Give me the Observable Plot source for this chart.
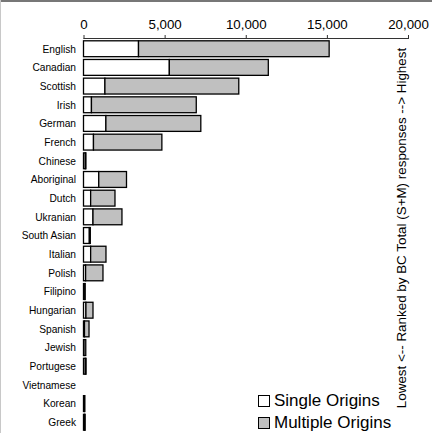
<!DOCTYPE html>
<html>
<head>
<meta charset="utf-8">
<script src="https://cdn.jsdelivr.net/npm/d3@7"></script>
<script src="https://cdn.jsdelivr.net/npm/@observablehq/plot@0.6"></script>
<style>
  html, body { margin: 0; padding: 0; background: #fff; overflow: hidden; }
  body { width: 432px; height: 433px; position: relative; font-family: Arial, "Liberation Sans", sans-serif; }
  #chart { position: absolute; left: 0; top: 0; }
  #legend { position: absolute; left: 258px; top: 390px; font-size: 17px; line-height: 22px; color: #000; }
  #legend .item { display: flex; align-items: center; white-space: nowrap; }
  #legend .sw { width: 10px; height: 10px; border: 1.3px solid #000; margin-right: 4px; }
  #edgeTop { position: absolute; left: 0; top: 0; width: 432px; height: 2px; background: #777; }
  #edgeLeft { position: absolute; left: 0; top: 0; width: 1px; height: 433px; background: #c8c8c8; }
</style>
</head>
<body>
<div id="chart"></div>
<div id="legend"></div>
<div id="edgeTop"></div>
<div id="edgeLeft"></div>
<script>
const categories = ["English","Canadian","Scottish","Irish","German","French","Chinese","Aboriginal","Dutch","Ukranian","South Asian","Italian","Polish","Filipino","Hungarian","Spanish","Jewish","Portugese","Vietnamese","Korean","Greek"];
const singleOrigins   = [3390, 5290, 1320, 490, 1380, 615, 110, 940, 440, 585, 360, 440, 130, 80, 150, 60, 30, 110, 0, 60, 70];
const multipleOrigins = [11750, 6100, 8250, 6460, 5850, 4215, 40, 1710, 1500, 1785, 60, 945, 1070, 20, 435, 280, 110, 50, 0, 20, 30];
const seriesNames = ["Single Origins", "Multiple Origins"];
const seriesColors = ["#ffffff", "#c0c0c0"];
const xTicks = [0, 5000, 10000, 15000, 20000];
const sideTitle = ["Lowest <-- Ranked by BC Total (S+M) responses --> Highest"];

const rows = [];
categories.forEach((c, i) => {
  rows.push({category: c, type: seriesNames[0], value: singleOrigins[i]});
  rows.push({category: c, type: seriesNames[1], value: multipleOrigins[i]});
});

const plot = Plot.plot({
  width: 432,
  height: 433,
  marginTop: 38,
  marginBottom: 0,
  marginLeft: 83.5,
  marginRight: 24,
  style: {fontFamily: "Arial, 'Liberation Sans', sans-serif", background: "transparent", color: "#000"},
  x: {domain: [0, 20000]},
  y: {domain: categories, padding: 0.15, round: false},
  color: {domain: seriesNames, range: seriesColors},
  marks: [
    Plot.barX(rows, Plot.stackX({
      x: "value", y: "category", fill: "type", order: seriesNames,
      stroke: "#000", strokeWidth: 1.3
    })),
    Plot.frame({anchor: "top", stroke: "#333"}),
    Plot.axisX({anchor: "top", ticks: xTicks, tickSize: 4, tickPadding: 6, fontSize: 13.3,
      tickFormat: d3.format(","), stroke: "#333", label: null}),
    Plot.axisY({tickSize: 0, tickPadding: 8, fontSize: 10.2, label: null}),
    Plot.text(sideTitle, {text: d => d, frameAnchor: "right", textAnchor: "middle", rotate: -90, dx: -7, dy: -8, fontSize: 13.4, fill: "#000"})
  ]
});
document.getElementById("chart").appendChild(plot);

const color = plot.scale("color");
const legend = document.getElementById("legend");
color.domain.forEach((name, i) => {
  const item = document.createElement("div");
  item.className = "item";
  const sw = document.createElement("span");
  sw.className = "sw";
  sw.style.background = color.range[i];
  const t = document.createElement("span");
  t.textContent = name;
  item.appendChild(sw);
  item.appendChild(t);
  legend.appendChild(item);
});
</script>
</body>
</html>
